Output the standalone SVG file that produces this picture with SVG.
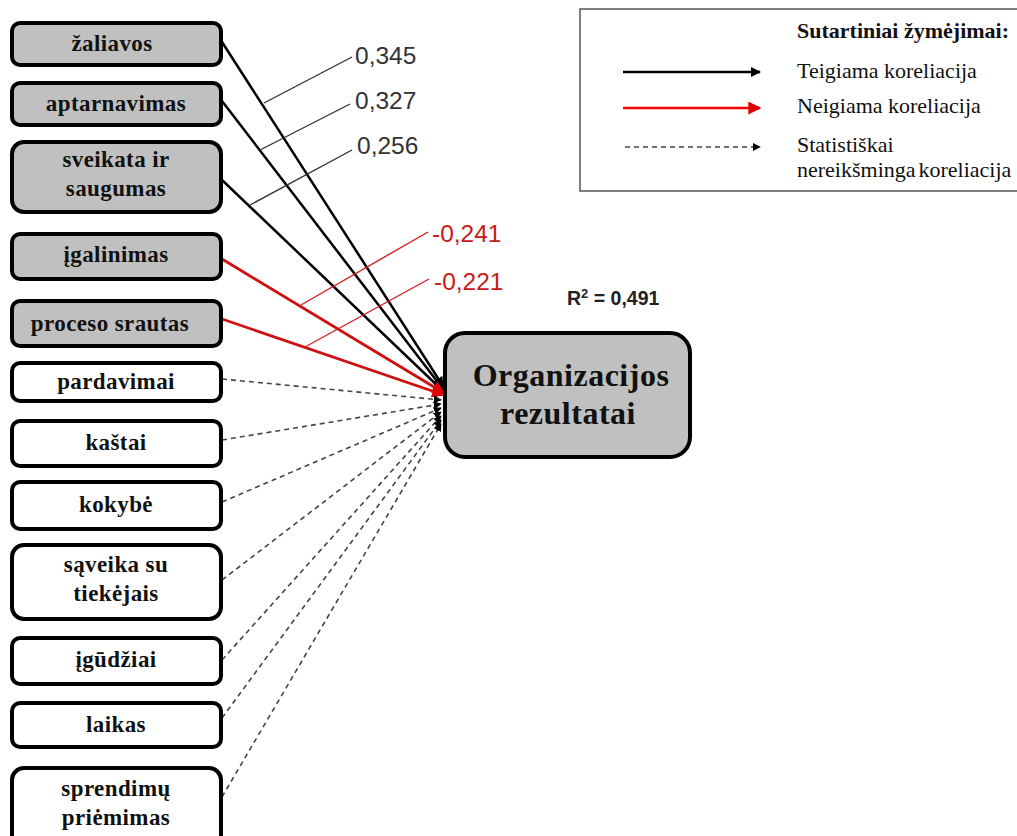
<svg xmlns="http://www.w3.org/2000/svg" width="1017" height="836" viewBox="0 0 1017 836">
  <defs>
    <style>
      .box { stroke: #000; stroke-width: 4; }
      .sig { fill: #c0c0c0; }
      .ns { fill: #fff; }
      .lbl { font-family: "Liberation Serif", "Times New Roman", serif; font-weight: bold; font-size: 23px; letter-spacing: 0.4px; fill: #111; text-anchor: middle; }
      .num { font-family: "Liberation Sans", Arial, sans-serif; font-size: 24.5px; }
      .pos { stroke: #000; stroke-width: 2.5; fill: none; }
      .neg { stroke: #d01010; stroke-width: 2.8; fill: none; }
      .nsl { stroke: #444; stroke-width: 1.6; stroke-dasharray: 5 4; fill: none; }
      .lead { stroke: #333; stroke-width: 1.4; fill: none; }
      .leadr { stroke: #d42020; stroke-width: 1.4; fill: none; }
      .leg { font-family: "Liberation Serif", "Times New Roman", serif; font-size: 22px; fill: #111; }
    </style>
    <marker id="ahB" viewBox="0 0 10 10" refX="9" refY="5" markerWidth="10" markerHeight="10" markerUnits="userSpaceOnUse" orient="auto">
      <path d="M0,0 L10,5 L0,10 z" fill="#000"/>
    </marker>
    <marker id="ahR" viewBox="0 0 10 10" refX="9" refY="5" markerWidth="13" markerHeight="13" markerUnits="userSpaceOnUse" orient="auto">
      <path d="M0,0 L10,5 L0,10 z" fill="#e00000"/>
    </marker>
    <marker id="ahD" viewBox="0 0 10 10" refX="9" refY="5" markerWidth="8" markerHeight="8" markerUnits="userSpaceOnUse" orient="auto">
      <path d="M0,0 L10,5 L0,10 z" fill="#000"/>
    </marker>
  </defs>

  <rect width="1017" height="836" fill="#fff"/>

  <!-- connectors -->
  <g id="connectors">
    <line class="pos" x1="222" y1="42" x2="443" y2="386" marker-end="url(#ahB)"/>
    <line class="pos" x1="222" y1="101" x2="443" y2="389" marker-end="url(#ahB)"/>
    <line class="pos" x1="222" y1="180" x2="443" y2="391" marker-end="url(#ahB)"/>
    <line class="neg" x1="222" y1="259" x2="444" y2="393" marker-end="url(#ahR)"/>
    <line class="neg" x1="222" y1="319" x2="444" y2="395" marker-end="url(#ahR)"/>
    <line class="nsl" x1="222" y1="379" x2="441" y2="400" marker-end="url(#ahD)"/>
    <line class="nsl" x1="222" y1="440" x2="441" y2="404" marker-end="url(#ahD)"/>
    <line class="nsl" x1="222" y1="502" x2="441" y2="408" marker-end="url(#ahD)"/>
    <line class="nsl" x1="222" y1="580" x2="441" y2="412" marker-end="url(#ahD)"/>
    <line class="nsl" x1="222" y1="660" x2="441" y2="416" marker-end="url(#ahD)"/>
    <line class="nsl" x1="222" y1="718" x2="441" y2="420" marker-end="url(#ahD)"/>
    <line class="nsl" x1="222" y1="797" x2="441" y2="424" marker-end="url(#ahD)"/>

    <!-- coefficient leaders -->
    <line class="lead" x1="264" y1="103" x2="352" y2="57"/>
    <line class="lead" x1="260" y1="150" x2="350" y2="104"/>
    <line class="lead" x1="250" y1="205" x2="352" y2="150"/>
    <line class="leadr" x1="301" y1="305" x2="428" y2="232"/>
    <line class="leadr" x1="305" y1="347" x2="429" y2="279"/>
  </g>

  <g id="coefficients">
    <text class="num" x="355" y="64" fill="#333">0,345</text>
    <text class="num" x="355" y="109" fill="#333">0,327</text>
    <text class="num" x="357" y="154" fill="#333">0,256</text>
    <text class="num" x="432" y="242" fill="#c81818">-0,241</text>
    <text class="num" x="434" y="290" fill="#c81818">-0,221</text>
  </g>

  <!-- predictor nodes -->
  <g id="n-zaliavos"><rect class="box sig" x="12" y="23" width="209" height="42" rx="8"/><text class="lbl" x="112" y="51">žaliavos</text></g>
  <g id="n-aptarnavimas"><rect class="box sig" x="12" y="83" width="209" height="42" rx="8"/><text class="lbl" x="116" y="111">aptarnavimas</text></g>
  <g id="n-sveikata"><rect class="box sig" x="12" y="142" width="209" height="70" rx="12"/><text class="lbl" x="116" y="167">sveikata ir</text><text class="lbl" x="116" y="196">saugumas</text></g>
  <g id="n-igalinimas"><rect class="box sig" x="12" y="234" width="209" height="45" rx="8"/><text class="lbl" x="116" y="262">įgalinimas</text></g>
  <g id="n-proceso"><rect class="box sig" x="12" y="301" width="209" height="45" rx="8"/><text class="lbl" x="110" y="331">proceso srautas</text></g>
  <g id="n-pardavimai"><rect class="box ns" x="12" y="363" width="209" height="38" rx="8"/><text class="lbl" x="116" y="389">pardavimai</text></g>
  <g id="n-kastai"><rect class="box ns" x="12" y="421" width="209" height="45" rx="8"/><text class="lbl" x="116" y="450">kaštai</text></g>
  <g id="n-kokybe"><rect class="box ns" x="12" y="482" width="209" height="47" rx="8"/><text class="lbl" x="116" y="512">kokybė</text></g>
  <g id="n-saveika"><rect class="box ns" x="12" y="545" width="209" height="74" rx="12"/><text class="lbl" x="116" y="572">sąveika su</text><text class="lbl" x="116" y="601">tiekėjais</text></g>
  <g id="n-igudziai"><rect class="box ns" x="12" y="638" width="209" height="46" rx="8"/><text class="lbl" x="116" y="667">įgūdžiai</text></g>
  <g id="n-laikas"><rect class="box ns" x="12" y="703" width="209" height="44" rx="8"/><text class="lbl" x="116" y="732">laikas</text></g>
  <g id="n-sprendimu"><rect class="box ns" x="12" y="768" width="209" height="80" rx="12"/><text class="lbl" x="116" y="796">sprendimų</text><text class="lbl" x="116" y="825">priėmimas</text></g>

  <!-- outcome node -->
  <g id="n-rezultatai">
    <rect class="box sig" x="445" y="333" width="245" height="124" rx="20"/>
    <text x="571" y="386" font-family="'Liberation Serif', 'Times New Roman', serif" font-weight="bold" font-size="32" letter-spacing="0.5" text-anchor="middle" fill="#111">Organizacijos</text>
    <text x="568" y="424" font-family="'Liberation Serif', 'Times New Roman', serif" font-weight="bold" font-size="32" letter-spacing="0.5" text-anchor="middle" fill="#111">rezultatai</text>
  </g>

  <text id="r2" x="567" y="305" font-family="'Liberation Sans', Arial, sans-serif" font-weight="bold" font-size="19.5" fill="#222">R<tspan font-size="13" dy="-7">2</tspan><tspan dy="7"> = 0,491</tspan></text>

  <!-- legend -->
  <g id="legend">
    <rect x="580" y="9" width="450" height="182" fill="#fff" stroke="#555" stroke-width="1.5"/>
    <text class="leg" x="797" y="38" font-weight="bold" font-size="20.5">Sutartiniai žymėjimai:</text>
    <line x1="623" y1="72" x2="760" y2="72" stroke="#000" stroke-width="2.5" marker-end="url(#ahB)"/>
    <text class="leg" x="797" y="78">Teigiama koreliacija</text>
    <line x1="623" y1="108" x2="760" y2="108" stroke="#ff0000" stroke-width="2.5" marker-end="url(#ahR)"/>
    <text class="leg" x="797" y="113">Neigiama koreliacija</text>
    <line x1="625" y1="147" x2="760" y2="147" stroke="#444" stroke-width="1.3" stroke-dasharray="5 4" marker-end="url(#ahD)"/>
    <text class="leg" x="797" y="152">Statistiškai</text>
    <text class="leg" x="797" y="177" word-spacing="-2.5">nereikšminga koreliacija</text>
  </g>
</svg>
